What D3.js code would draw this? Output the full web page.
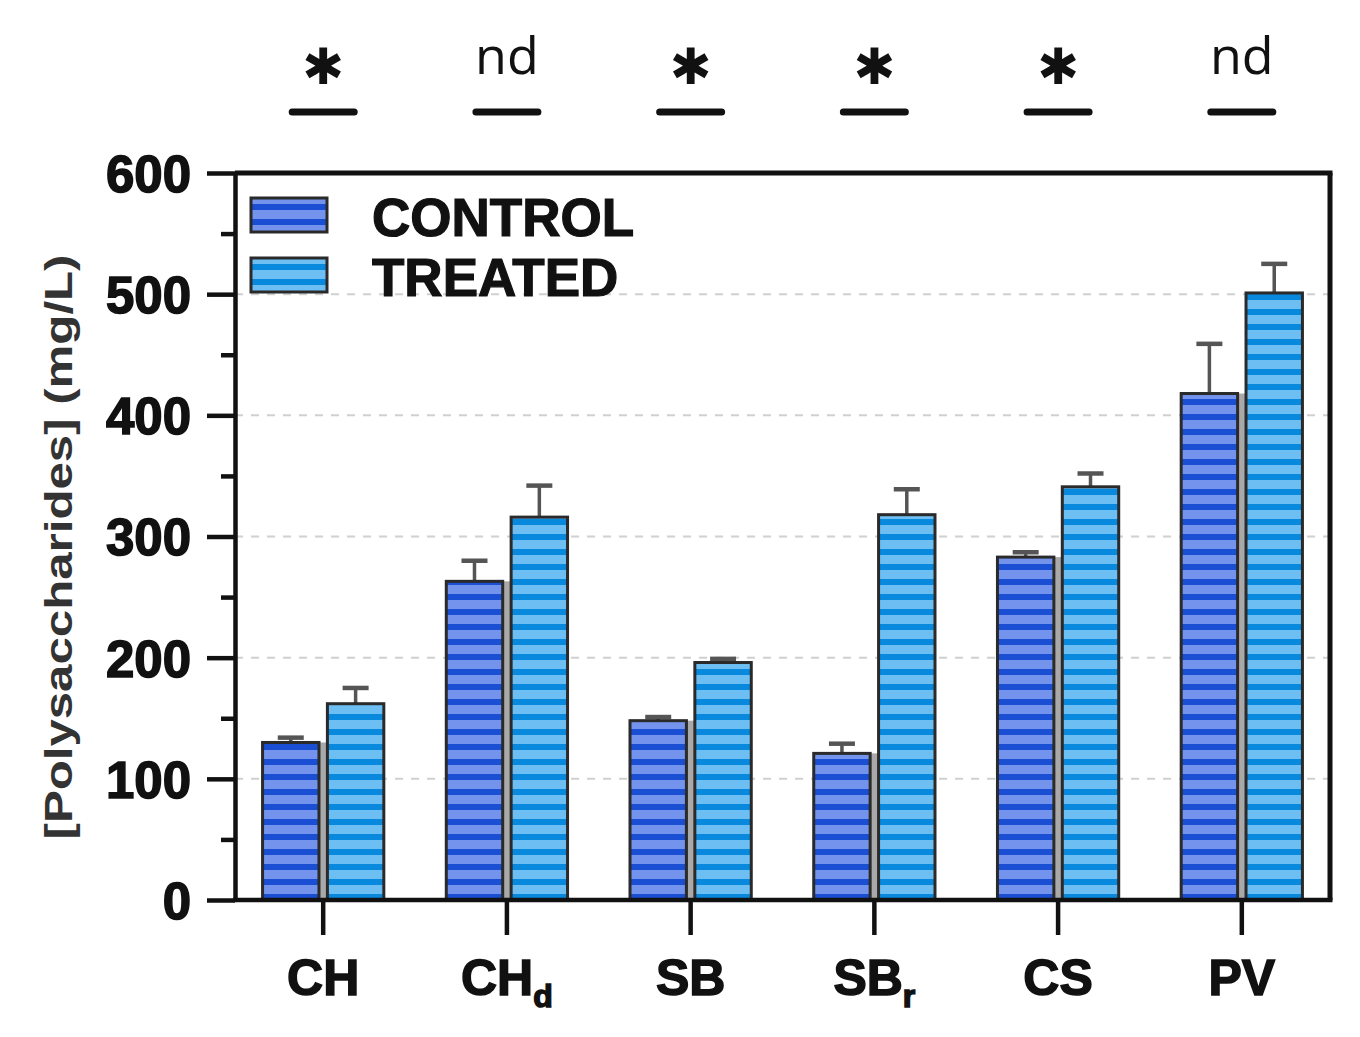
<!DOCTYPE html>
<html>
  <head>
    <meta charset="utf-8"/>
    <title>Polysaccharides</title>
    <style>
      body { margin: 0; background: #fff; }
      .grid line { stroke: #d0d0d0; stroke-width: 2px; stroke-dasharray: 8 8; }
      .axis path, .axis line { stroke: #111; stroke-width: 4.5px; }
      .ylab { font-family: "Liberation Sans", Arial, sans-serif; font-weight: bold; font-size: 51px; fill: #111; stroke: #111; stroke-width: 1.5px; }
      .xlab { font-family: "Liberation Sans", Arial, sans-serif; font-weight: bold; font-size: 50px; fill: #111; stroke: #111; stroke-width: 1.5px; }
      .legend text { font-family: "Liberation Sans", Arial, sans-serif; font-weight: bold; font-size: 53px; fill: #111; stroke: #111; stroke-width: 1.2px; }
    </style>
    <script src="https://cdnjs.cloudflare.com/ajax/libs/d3/7.8.5/d3.min.js"></script>
  </head>
  <body>
    <svg id="chart" width="1360" height="1037"></svg>

    <script>
      // data
      var categories = ["CH", "CHd", "SB", "SBr", "CS", "PV"];
      var labelMain = ["CH", "CH", "SB", "SB", "CS", "PV"];
      var labelSub = ["", "d", "", "r", "", ""];
      var series = ["CONTROL", "TREATED"];
      var controlVals = [130, 263, 148, 121, 283, 418];
      var controlErr = [4, 17, 3, 8, 4, 41];
      var treatedVals = [162, 316, 196, 318, 341, 501];
      var treatedErr = [13, 26, 3, 21, 11, 24];
      var signif = ["*", "nd", "*", "*", "*", "nd"];
      var yTicks = [0, 100, 200, 300, 400, 500, 600];
      var yMinor = [50, 150, 250, 350, 450, 550];

      var svg = d3.select("#chart");
      // plot box (window.top is read-only, so no "top" here)
      var pLeft = 235, pRight = 1330, pTop = 173, pBottom = 900;

      var x0 = d3.scaleBand().domain(categories).range([pLeft, pRight])
        .paddingInner(0.34).paddingOuter(0.15);
      var x1 = d3.scaleBand().domain(series).range([0, x0.bandwidth()])
        .paddingInner(0.13);
      var y = d3.scaleLinear().domain([0, 600]).range([pBottom, pTop]);

      // striped fills
      var defs = svg.append("defs");
      var fills = {
        CONTROL: { light: "#7393ec", dark: "#1a4fd4" },
        TREATED: { light: "#6dbff3", dark: "#0889de" }
      };
      series.forEach(function(s) {
        var p = defs.append("pattern")
          .attr("id", "pat-" + s)
          .attr("patternUnits", "userSpaceOnUse")
          .attr("width", 20).attr("height", 15);
        p.append("rect").attr("width", 20).attr("height", 15).attr("fill", fills[s].light);
        p.append("rect").attr("y", 9).attr("width", 20).attr("height", 6).attr("fill", fills[s].dark);
      });

      // grid
      svg.append("g").attr("class", "grid")
        .selectAll("line").data(yTicks.filter(function(d) { return d > 0 && d < 600; }))
        .enter().append("line")
        .attr("x1", pLeft).attr("x2", pRight)
        .attr("y1", function(d) { return y(d); })
        .attr("y2", function(d) { return y(d); });

      var rows = categories.map(function(c, i) {
        return {
          cat: c,
          bars: [
            { s: "CONTROL", v: controlVals[i], e: controlErr[i] },
            { s: "TREATED", v: treatedVals[i], e: treatedErr[i] }
          ]
        };
      });

      var groups = svg.append("g").selectAll("g").data(rows).enter().append("g")
        .attr("transform", function(d) { return "translate(" + x0(d.cat) + ",0)"; });

      // grey gap shading between the two bars
      groups.append("rect")
        .attr("x", function(d) { return x1("CONTROL") + x1.bandwidth(); })
        .attr("width", x1.step() - x1.bandwidth())
        .attr("y", function(d) { return y(d.bars[0].v); })
        .attr("height", function(d) { return pBottom - y(d.bars[0].v); })
        .attr("fill", "#a9a9a9");

      // error bars (upper only)
      groups.selectAll(".err").data(function(d) { return d.bars; }).enter().append("g")
        .attr("class", "err")
        .each(function(d) {
          var g = d3.select(this);
          var cx = x1(d.s) + x1.bandwidth() / 2;
          g.append("line").attr("x1", cx).attr("x2", cx)
            .attr("y1", y(d.v)).attr("y2", y(d.v + d.e))
            .attr("stroke", "#555").attr("stroke-width", 3.5);
          g.append("line").attr("x1", cx - 13).attr("x2", cx + 13)
            .attr("y1", y(d.v + d.e)).attr("y2", y(d.v + d.e))
            .attr("stroke", "#555").attr("stroke-width", 4.5);
        });

      groups.selectAll(".bar").data(function(d) { return d.bars; }).enter().append("rect")
        .attr("class", "bar")
        .attr("x", function(d) { return x1(d.s); })
        .attr("width", x1.bandwidth())
        .attr("y", function(d) { return y(d.v); })
        .attr("height", function(d) { return pBottom - y(d.v); })
        .attr("fill", function(d) { return "url(#pat-" + d.s + ")"; })
        .attr("stroke", "#2a2a2a").attr("stroke-width", 3);

      // frame top and right
      svg.append("line").attr("x1", pLeft).attr("x2", pRight + 2.5).attr("y1", pTop).attr("y2", pTop)
        .attr("stroke", "#111").attr("stroke-width", 5);
      svg.append("line").attr("x1", pRight).attr("x2", pRight).attr("y1", pTop).attr("y2", pBottom)
        .attr("stroke", "#111").attr("stroke-width", 5);

      // y axis
      var yAxis = svg.append("g").attr("class", "axis")
        .attr("transform", "translate(" + pLeft + ",0)")
        .call(d3.axisLeft(y).tickValues(yTicks).tickSize(28).tickSizeOuter(0).tickFormat(d3.format("d")));
      yAxis.selectAll("text").attr("class", "ylab").attr("x", -44).attr("dy", "0.36em");
      svg.append("g").attr("class", "axis")
        .attr("transform", "translate(" + pLeft + ",0)")
        .call(d3.axisLeft(y).tickValues(yMinor).tickSize(14).tickFormat(""))
        .select(".domain").remove();

      // x axis
      var xAxis = svg.append("g").attr("class", "axis")
        .attr("transform", "translate(0," + pBottom + ")")
        .call(d3.axisBottom(x0).tickSize(35).tickSizeOuter(0).tickFormat(""));
      xAxis.select(".domain").attr("d", "M" + (pLeft - 2) + ",0H" + (pRight + 2.5));

      var xl = svg.append("g").selectAll("text").data(categories).enter().append("text")
        .attr("class", "xlab")
        .attr("x", function(d) { return x0(d) + x0.bandwidth() / 2; })
        .attr("y", 995)
        .attr("text-anchor", "middle");
      xl.append("tspan").text(function(d, i) { return labelMain[i]; });
      xl.append("tspan").attr("dy", 12).attr("font-size", 32)
        .text(function(d, i) { return labelSub[i]; });

      // y title
      svg.append("text")
        .attr("transform", "translate(72,547) rotate(-90)")
        .attr("text-anchor", "middle")
        .attr("font-family", "'Liberation Sans', Arial, sans-serif")
        .attr("font-weight", "bold")
        .attr("font-size", 38)
        .attr("textLength", 585).attr("lengthAdjust", "spacingAndGlyphs")
        .attr("fill", "#333")
        .text("[Polysaccharides] (mg/L)");

      // legend
      var legend = svg.append("g").attr("class", "legend");
      series.forEach(function(s, i) {
        var ly = 198 + i * 60;
        legend.append("rect").attr("x", 251).attr("y", ly).attr("width", 76).attr("height", 34)
          .attr("fill", "url(#pat-" + s + ")").attr("stroke", "#2a2a2a").attr("stroke-width", 3);
        legend.append("text").attr("x", 372).attr("y", ly + 38).text(s);
      });

      // significance marks above each group
      var sig = svg.append("g").selectAll("g").data(categories).enter().append("g")
        .attr("transform", function(d) { return "translate(" + (x0(d) + x0.bandwidth() / 2) + ",0)"; });
      sig.append("line").attr("x1", -31).attr("x2", 31).attr("y1", 112).attr("y2", 112)
        .attr("stroke", "#111").attr("stroke-width", 7).attr("stroke-linecap", "round");
      sig.append("text")
        .attr("text-anchor", "middle")
        .attr("y", function(d, i) { return signif[i] === "*" ? 84 : 74; })
        .attr("font-family", function(d, i) { return signif[i] === "*" ? "'DejaVu Sans', sans-serif" : "'Open Sans', 'Noto Sans', sans-serif"; })
        .attr("font-size", function(d, i) { return signif[i] === "*" ? 50 : 52; })
        .attr("fill", "#111")
        .text(function(d, i) { return signif[i] === "*" ? "\u2731" : "nd"; });
    </script>
  </body>
</html>
